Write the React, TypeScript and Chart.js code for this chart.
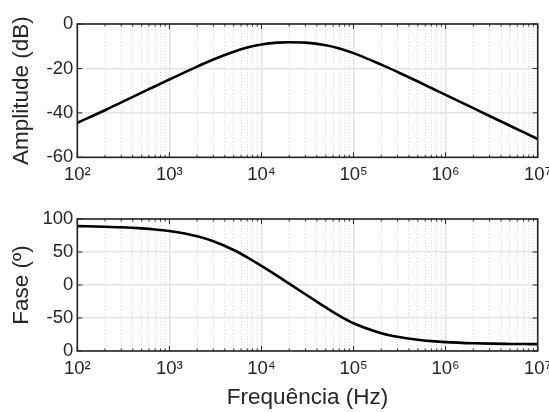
import React, { useEffect, useRef } from "react";
import { Chart, registerables } from "chart.js";

Chart.register(...registerables);

// Frequency samples (Hz)
const freqs = [
  1e2, 2e2, 3e2, 5e2, 7e2, 1e3, 2e3, 3e3, 5e3, 7e3, 1e4, 1.5e4, 2e4, 3e4,
  5e4, 7e4, 1e5, 2e5, 3e5, 5e5, 7e5, 1e6, 2e6, 3e6, 5e6, 7e6, 1e7,
];
// Amplitude (dB)
const amplitudeDb = [
  -44.5, -38.8, -35.3, -30.9, -28.0, -25.0, -19.2, -16.0, -12.5, -10.6, -9.2,
  -8.4, -8.2, -8.4, -9.6, -11.0, -13.1, -18.3, -21.6, -25.9, -28.8, -31.9,
  -37.9, -41.4, -45.8, -48.7, -51.8,
];
// Phase (º)
const phaseDeg = [
  89.2, 88.3, 87.5, 85.8, 84.2, 81.7, 73.8, 66.3, 53.0, 42.0, 29.0, 13.5, 2.0,
  -14.0, -34.0, -46.5, -58.0, -73.0, -78.5, -83.0, -85.0, -86.5, -88.3, -88.9,
  -89.3, -89.5, -89.6,
];

const xTickValues = [1e2, 1e3, 1e4, 1e5, 1e6, 1e7];
const xTickLabels = ["10²", "10³", "10⁴", "10⁵", "10⁶", "10⁷"];
const ampTickValues = [-60, -40, -20, 0];
const ampTickLabels = ["-60", "-40", "-20", "0"];
const phaseTickValues = [-100, -50, 0, 50, 100];
const phaseTickLabels = ["0", "-50", "0", "50", "100"];

const FONT = "'Liberation Sans', Arial, Helvetica, sans-serif";
const TEXT = "#262626";
const AXIS = "#262626";
const MAJOR_GRID = "#e4e4e4";
const MINOR_GRID = "#cfcfcf";
const TICK_SIZE = 18.5;
const TITLE_SIZE = 22.5;

function isDecade(v: number) {
  const l = Math.log10(v);
  return Math.abs(l - Math.round(l)) < 1e-6;
}

function allLogTicks() {
  const out: number[] = [];
  for (let e = 2; e <= 7; e++) {
    for (let m = 1; m <= 9; m++) {
      const v = m * Math.pow(10, e);
      if (v <= 1e7) out.push(v);
    }
  }
  return out;
}

const framePlugin = {
  id: "frame",
  afterDraw(chart: any) {
    const { ctx, chartArea: a, scales } = chart;
    const xs = scales.x;
    const ys = scales.y;
    ctx.save();
    ctx.strokeStyle = AXIS;
    ctx.lineWidth = 1;
    ctx.beginPath();
    for (const v of allLogTicks()) {
      const px = xs.getPixelForValue(v);
      const len = isDecade(v) ? 5 : 2.5;
      ctx.moveTo(px, a.bottom);
      ctx.lineTo(px, a.bottom - len);
      ctx.moveTo(px, a.top);
      ctx.lineTo(px, a.top + len);
    }
    for (const t of ys.ticks) {
      const py = ys.getPixelForValue(t.value);
      ctx.moveTo(a.left, py);
      ctx.lineTo(a.left + 5, py);
      ctx.moveTo(a.right, py);
      ctx.lineTo(a.right - 5, py);
    }
    ctx.stroke();
    ctx.lineWidth = 1.6;
    ctx.strokeRect(a.left, a.top, a.right - a.left, a.bottom - a.top);
    ctx.restore();
  },
};

function makeConfig(
  values: number[],
  yMin: number,
  yMax: number,
  yTicks: number[],
  yLabels: string[],
  yTitle: string,
  xTitle: string | null,
  xHeight: number
): any {
  return {
    type: "line",
    data: {
      datasets: [
        {
          data: freqs.map((f, i) => ({ x: f, y: values[i] })),
          borderColor: "#000000",
          borderWidth: 2.6,
          pointRadius: 0,
          cubicInterpolationMode: "monotone",
          fill: false,
        },
      ],
    },
    plugins: [framePlugin],
    options: {
      animation: false,
      responsive: false,
      maintainAspectRatio: false,
      layout: { padding: { top: 24, right: 11.3, left: 0, bottom: 0 } },
      plugins: {
        legend: { display: false },
        tooltip: { enabled: false },
      },
      scales: {
        x: {
          type: "logarithmic",
          min: 1e2,
          max: 1e7,
          afterBuildTicks: (scale: any) => {
            scale.ticks = allLogTicks().map((v) => ({ value: v, major: isDecade(v) }));
          },
          afterFit: (scale: any) => {
            scale.height = xHeight;
            scale.paddingLeft = 0;
            scale.paddingRight = 0;
          },
          border: {
            display: false,
            dash: (ctx: any) =>
              ctx.tick && !isDecade(ctx.tick.value) ? [1, 2] : [],
          },
          grid: {
            drawTicks: false,
            color: (ctx: any) =>
              ctx.tick && isDecade(ctx.tick.value) ? MAJOR_GRID : MINOR_GRID,
            lineWidth: (ctx: any) =>
              ctx.tick && isDecade(ctx.tick.value) ? 1.5 : 0.8,
          },
          ticks: {
            autoSkip: false,
            maxRotation: 0,
            minRotation: 0,
            padding: 7,
            color: TEXT,
            font: { family: FONT, size: TICK_SIZE },
            callback: (v: any) => {
              const i = xTickValues.findIndex((t) => Math.abs(Math.log10(t) - Math.log10(v)) < 1e-6);
              return i >= 0 ? xTickLabels[i] : "";
            },
          },
          title: xTitle
            ? {
                display: true,
                text: xTitle,
                color: TEXT,
                font: { family: FONT, size: TITLE_SIZE },
                padding: { top: 0, bottom: 1 },
              }
            : { display: false },
        },
        y: {
          type: "linear",
          min: yMin,
          max: yMax,
          afterBuildTicks: (scale: any) => {
            scale.ticks = yTicks.map((v) => ({ value: v }));
          },
          afterFit: (scale: any) => {
            scale.width = 77.3;
            scale.paddingTop = 0;
            scale.paddingBottom = 0;
          },
          border: { display: false },
          grid: {
            drawTicks: false,
            color: MAJOR_GRID,
            lineWidth: 1.5,
          },
          ticks: {
            padding: 4,
            color: TEXT,
            font: { family: FONT, size: TICK_SIZE },
            callback: (v: any) => {
              const i = yTicks.indexOf(Number(v));
              return i >= 0 ? yLabels[i] : "";
            },
          },
          title: {
            display: true,
            text: yTitle,
            color: TEXT,
            font: { family: FONT, size: TITLE_SIZE },
            padding: { top: 8, bottom: 0 },
          },
        },
      },
    },
  };
}

function ChartCanvas(props: { config: any; top: number; height: number }) {
  const ref = useRef<HTMLCanvasElement | null>(null);
  useEffect(() => {
    if (!ref.current) return;
    const chart = new Chart(ref.current, props.config);
    return () => chart.destroy();
  }, []);
  return (
    <canvas
      ref={ref}
      width={549}
      height={props.height}
      style={{
        position: "absolute",
        left: 0,
        top: props.top,
        width: 549,
        height: props.height,
        display: "block",
      }}
    />
  );
}

export default function App() {
  const topConfig = makeConfig(
    amplitudeDb,
    -60,
    0,
    ampTickValues,
    ampTickLabels,
    "Amplitude (dB)",
    null,
    37.7
  );
  const bottomConfig = makeConfig(
    phaseDeg,
    -100,
    100,
    phaseTickValues,
    phaseTickLabels,
    "Fase (º)",
    "Frequência (Hz)",
    61
  );
  return (
    <div
      style={{
        position: "fixed",
        left: 0,
        top: 0,
        width: 549,
        height: 412,
        background: "#ffffff",
        overflow: "hidden",
      }}
    >
      <ChartCanvas config={topConfig} top={0} height={195} />
      <ChartCanvas config={bottomConfig} top={195} height={217} />
    </div>
  );
}
